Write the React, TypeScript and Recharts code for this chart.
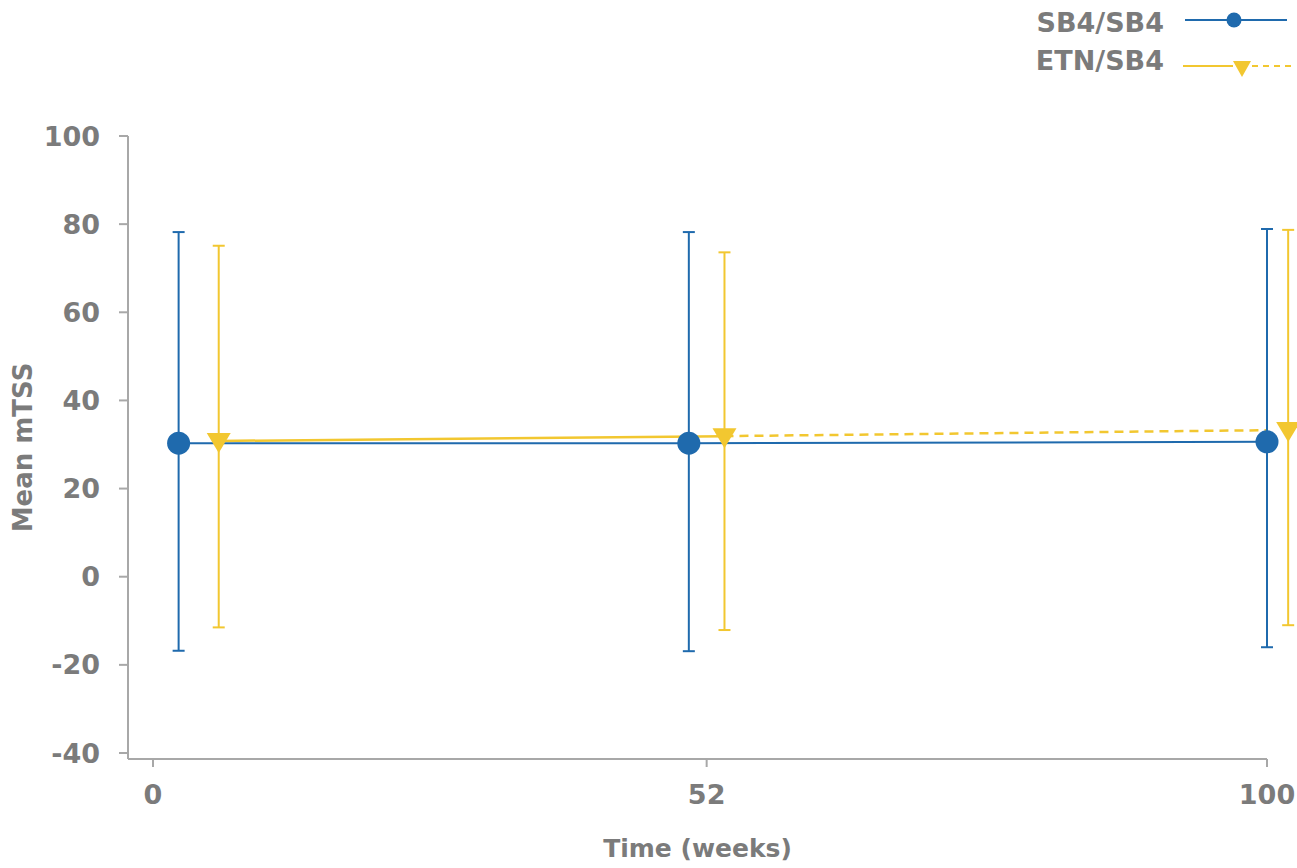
import { ComposedChart, ErrorBar, Label, Line, Scatter, XAxis, YAxis } from 'recharts';

// visit weeks and where their ticks sit on the time axis
const weeks = [0, 52, 100];
const weekTickPositions = [0, 49.7, 100];

// SB4/SB4 arm: plotted time, mean mTSS and SD range
const sb4Time = [2.3, 48.1, 100];
const sb4Mean = [30.3, 30.3, 30.6];
const sb4Upper = [78.2, 78.2, 78.9];
const sb4Lower = [-16.8, -16.9, -16.0];

// ETN/SB4 arm
const etnTime = [5.9, 51.3, 101.9];
const etnMean = [30.8, 31.9, 33.3];
const etnUpper = [75.1, 73.6, 78.7];
const etnLower = [-11.5, -12.1, -11.0];

const yTicks = [-40, -20, 0, 20, 40, 60, 80, 100];

const BLUE = '#1f6aad';
const YELLOW = '#f2c730';
const AXIS = '#a8a8a8';
const TEXT = '#7b7b7b';
const FONT = '"DejaVu Sans", sans-serif';

type Row = { x: number; y: number; err: [number, number] };

function buildRows(time: number[], mean: number[], lower: number[], upper: number[]): Row[] {
  return time.map((x, i) => ({
    x,
    y: mean[i],
    err: [mean[i] - lower[i], upper[i] - mean[i]],
  }));
}

const sb4Rows = buildRows(sb4Time, sb4Mean, sb4Lower, sb4Upper);
const etnRows = buildRows(etnTime, etnMean, etnLower, etnUpper);

const tickStyle = { fill: TEXT, fontSize: 27, fontFamily: FONT, fontWeight: 700 };

function CircleMarker(props: any) {
  const { cx, cy } = props;
  return <circle cx={cx} cy={cy} r={11.5} fill={BLUE} />;
}

function TriangleMarker(props: any) {
  const { cx, cy } = props;
  return <polygon points={`${cx - 12},${cy - 8} ${cx + 12},${cy - 8} ${cx},${cy + 12}`} fill={YELLOW} />;
}

function ChartLegend() {
  return (
    <svg width={277} height={90} style={{ position: 'absolute', left: 1020, top: 0 }}>
      <g fontFamily={FONT} fontWeight={700} fontSize={27} fill={TEXT} textAnchor="end">
        <text x={144} y={32}>SB4/SB4</text>
        <text x={144} y={70}>ETN/SB4</text>
      </g>
      <line x1={165} x2={267} y1={20} y2={20} stroke={BLUE} strokeWidth={2} />
      <circle cx={214} cy={20} r={7.5} fill={BLUE} />
      <line x1={163} x2={213} y1={66} y2={66} stroke={YELLOW} strokeWidth={2} />
      <line x1={232} x2={272} y1={66} y2={66} stroke={YELLOW} strokeWidth={2} strokeDasharray="6 5" />
      <polygon points="213,61 231,61 222,77" fill={YELLOW} />
    </svg>
  );
}

export default function App() {
  return (
    <div
      style={{
        position: 'fixed',
        left: 0,
        top: 0,
        width: 1297,
        height: 868,
        overflow: 'hidden',
        background: '#ffffff',
      }}
    >
      {/* marks past week 100 still have to show beyond the plot edge */}
      <style>{'.recharts-surface g[clip-path] { clip-path: none; }'}</style>
      <ChartLegend />
      <ComposedChart width={1297} height={868} margin={{ top: 136, right: 30, bottom: 29, left: 28 }}>
        <XAxis
          type="number"
          dataKey="x"
          domain={[0, 100]}
          allowDataOverflow
          ticks={weekTickPositions}
          tickFormatter={(v) => String(weeks[weekTickPositions.indexOf(v)] ?? v)}
          padding={{ left: 25 }}
          height={80}
          tickSize={8}
          tickMargin={18}
          tick={tickStyle}
          axisLine={{ stroke: AXIS, strokeWidth: 2 }}
          tickLine={{ stroke: AXIS, strokeWidth: 2 }}
        >
          <Label
            value="Time (weeks)"
            position="bottom"
            offset={0}
            style={{ fill: TEXT, fontSize: 25, fontFamily: FONT, fontWeight: 700 }}
          />
        </XAxis>
        <YAxis
          type="number"
          dataKey="y"
          domain={[-40, 100]}
          ticks={yTicks}
          padding={{ bottom: 6 }}
          width={100}
          tickSize={9}
          tickMargin={19}
          tick={tickStyle}
          axisLine={{ stroke: AXIS, strokeWidth: 2 }}
          tickLine={{ stroke: AXIS, strokeWidth: 2 }}
        >
          <Label
            value="Mean mTSS"
            angle={-90}
            position="insideLeft"
            offset={-5}
            style={{ fill: TEXT, fontSize: 26, fontFamily: FONT, fontWeight: 700, textAnchor: 'middle' }}
          />
        </YAxis>

        <Line
          data={sb4Rows}
          dataKey="y"
          stroke={BLUE}
          strokeWidth={2}
          dot={false}
          activeDot={false}
          isAnimationActive={false}
        />
        <Line
          data={etnRows.slice(0, 2)}
          dataKey="y"
          stroke={YELLOW}
          strokeWidth={2.5}
          dot={false}
          activeDot={false}
          isAnimationActive={false}
        />
        <Line
          data={etnRows.slice(1)}
          dataKey="y"
          stroke={YELLOW}
          strokeWidth={2.5}
          strokeDasharray="9 6"
          dot={false}
          activeDot={false}
          isAnimationActive={false}
        />

        <Scatter data={sb4Rows} shape={CircleMarker} isAnimationActive={false}>
          <ErrorBar dataKey="err" direction="y" width={6} stroke={BLUE} strokeWidth={2} />
        </Scatter>
        <Scatter data={etnRows} shape={TriangleMarker} isAnimationActive={false}>
          <ErrorBar dataKey="err" direction="y" width={6} stroke={YELLOW} strokeWidth={2} />
        </Scatter>
      </ComposedChart>
    </div>
  );
}
